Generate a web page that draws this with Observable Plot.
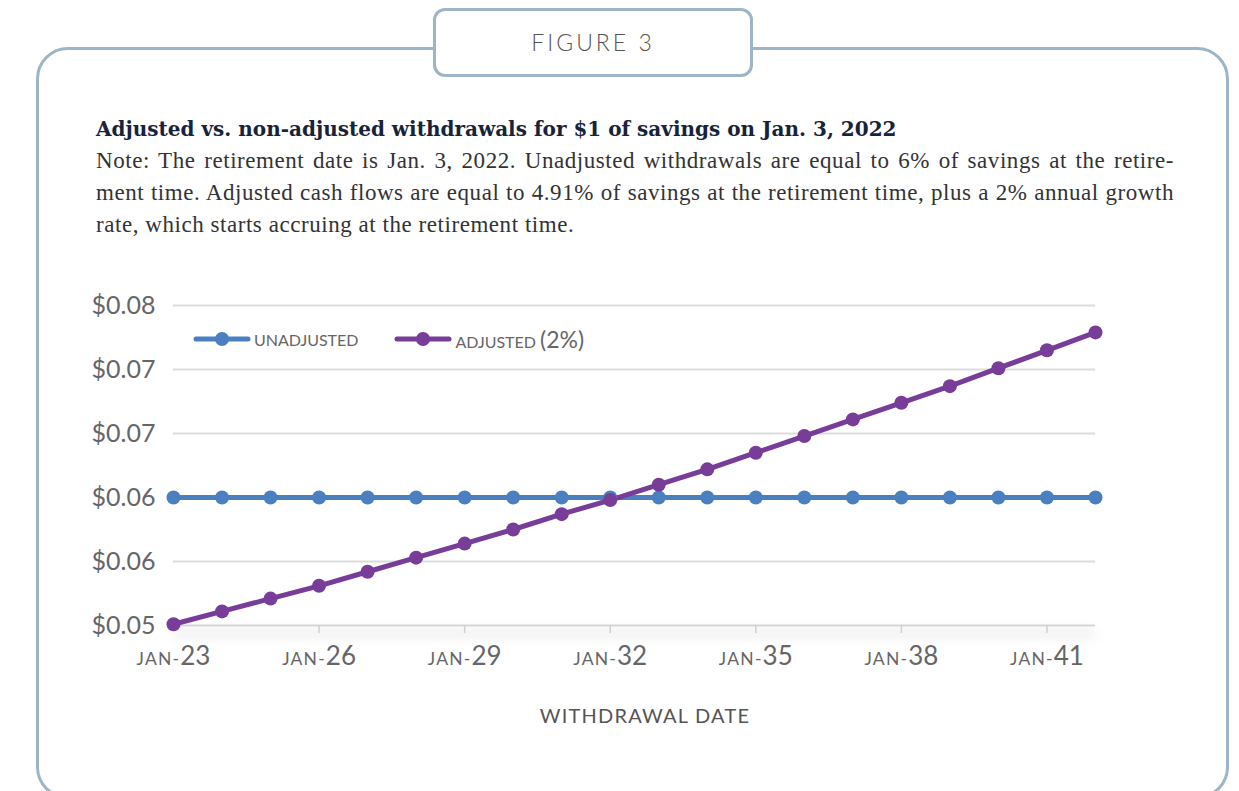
<!DOCTYPE html>
<html>
<head>
<meta charset="utf-8">
<script src="https://cdn.jsdelivr.net/npm/d3@7"></script>
<script src="https://cdn.jsdelivr.net/npm/@observablehq/plot@0.6"></script>
<style>
  html, body { margin: 0; padding: 0; background: #fff; width: 1239px; height: 791px; overflow: hidden; }
  #frame { position: absolute; left: 36px; top: 47px; width: 1193px; height: 752px; border: 3px solid #9db5c6; border-radius: 32px; box-sizing: border-box; }
  #tab { position: absolute; left: 433px; top: 8px; width: 320px; height: 69px; border: 3px solid #9db5c6; border-radius: 12px; box-sizing: border-box; background: #fff;
         font-family: Lato, sans-serif; font-weight: 300; font-size: 23px; letter-spacing: 3px; color: #555; text-align: center; line-height: 63px; }
  #title { position: absolute; left: 96px; top: 117px; font-family: "DejaVu Serif", serif; font-weight: bold; font-size: 20px; color: #17233a; white-space: nowrap; letter-spacing: 0px; }
  #note { position: absolute; left: 96px; top: 145px; width: 1078px; font-family: "Liberation Serif", serif; font-size: 23px; letter-spacing: 0.55px; line-height: 32px; color: #333; }
  #note div.j { text-align: justify; text-align-last: justify; white-space: nowrap; }
  #chart { position: absolute; left: 80px; top: 280px; }
  #legend { position: absolute; left: 193px; top: 325px; font-family: Lato, sans-serif; color: #666; font-size: 16px; display: flex; align-items: center; }
  #legend .item { display: flex; align-items: center; margin-right: 36px; }
  #legend svg { margin-right: 3px; }
  #xtitle { position: absolute; left: 0; width: 1290px; top: 703px; text-align: center; font-family: Lato, sans-serif; font-size: 20px; color: #555; letter-spacing: 1.2px; }
</style>
</head>
<body>
<div id="frame"></div>
<div id="tab">FIGURE 3</div>
<div id="title">Adjusted vs. non-adjusted withdrawals for $1 of savings on Jan. 3, 2022</div>
<div id="note">
  <div class="j">Note: The retirement date is Jan. 3, 2022. Unadjusted withdrawals are equal to 6% of savings at the retire-</div>
  <div class="j">ment time. Adjusted cash flows are equal to 4.91% of savings at the retirement time, plus a 2% annual growth</div>
  <div>rate, which starts accruing at the retirement time.</div>
</div>
<div id="chart"></div>
<div id="legend"></div>
<div id="xtitle">WITHDRAWAL DATE</div>
<script>
// ---- data ----
const years = [2023, 2024, 2025, 2026, 2027, 2028, 2029, 2030, 2031, 2032,
               2033, 2034, 2035, 2036, 2037, 2038, 2039, 2040, 2041, 2042];
const unadjusted = [0.06, 0.06, 0.06, 0.06, 0.06, 0.06, 0.06, 0.06, 0.06, 0.06,
                    0.06, 0.06, 0.06, 0.06, 0.06, 0.06, 0.06, 0.06, 0.06, 0.06];
const adjusted = [0.0501, 0.0511, 0.0521, 0.0531, 0.0542, 0.0553, 0.0564, 0.0575, 0.0587, 0.0598,
                  0.0610, 0.0622, 0.0635, 0.0648, 0.0661, 0.0674, 0.0687, 0.0701, 0.0715, 0.0729];
const seriesNames = ["UNADJUSTED", "ADJUSTED (2%)"];
const seriesColors = ["#4a80c0", "#773d98"];
const xTicks = [2023, 2026, 2029, 2032, 2035, 2038, 2041];
const xTickLabels = ["JAN-23", "JAN-26", "JAN-29", "JAN-32", "JAN-35", "JAN-38", "JAN-41"];
const yTicks = [0.05, 0.055, 0.06, 0.065, 0.07, 0.075];
const yTickLabels = ["$0.05", "$0.06", "$0.06", "$0.07", "$0.07", "$0.08"];

const rows = [
  ...years.map((yr, i) => ({year: yr, value: unadjusted[i], series: seriesNames[0]})),
  ...years.map((yr, i) => ({year: yr, value: adjusted[i], series: seriesNames[1]}))
];

const plot = Plot.plot({
  width: 1050,
  height: 460,
  marginLeft: 93,
  marginRight: 35,
  marginTop: 25,
  marginBottom: 115,
  style: {fontFamily: "Lato, sans-serif", background: "transparent", overflow: "visible"},
  x: {domain: [2023, 2042]},
  y: {domain: [0.05, 0.075]},
  color: {domain: seriesNames, range: seriesColors},
  marks: [
    Plot.ruleY(yTicks.slice(1), {stroke: "#dcdcdc", strokeWidth: 2}),
    Plot.ruleY([yTicks[0]], {stroke: "#d6d6d6", strokeWidth: 2}),
    Plot.axisY(yTicks, {
      tickSize: 0, tickPadding: 18, fontSize: 25, color: "#666",
      tickFormat: (d) => yTickLabels[yTicks.indexOf(d)], label: null
    }),
    Plot.axisX(xTicks.slice(1), {
      tickSize: 8, stroke: "#d0d0d0", strokeWidth: 1.5, tickFormat: () => "", label: null
    }),
    Plot.axisX(xTicks, {
      tickSize: 0, tickPadding: 22, fontSize: 24, color: "#666",
      tickFormat: d => xTickLabels[xTicks.indexOf(d)], label: null
    }),
    Plot.line(rows, {x: "year", y: "value", stroke: "series", z: "series", strokeWidth: 5}),
    Plot.dot(rows, {x: "year", y: "value", fill: "series", r: 7, stroke: null})
  ]
});
document.getElementById("chart").appendChild(plot);

// shadow under the x baseline
const rulesG = plot.querySelectorAll('g[aria-label="rule"]');
if (rulesG.length > 1) rulesG[1].setAttribute("style", "filter: drop-shadow(0px 8px 6px rgba(0,0,0,0.28))");

// split x tick labels into small "JAN-" and larger year digits
plot.querySelectorAll('g[aria-label="x-axis tick label"] text').forEach(t => {
  const s = t.textContent;
  if (!s) return;
  const [a, b] = s.split("-");
  t.textContent = "";
  const ns = "http://www.w3.org/2000/svg";
  const t1 = document.createElementNS(ns, "tspan");
  t1.setAttribute("font-size", "17.5");
  t1.setAttribute("letter-spacing", "1.2");
  t1.textContent = a + "-";
  const t2 = document.createElementNS(ns, "tspan");
  t2.setAttribute("font-size", "26");
  t2.textContent = b;
  t.appendChild(t1); t.appendChild(t2);
});

// legend
const legend = document.getElementById("legend");
seriesNames.forEach((name, i) => {
  const item = document.createElement("div");
  item.className = "item";
  item.innerHTML = `<svg width="58" height="16"><line x1="3" x2="55" y1="8" y2="8" stroke="${seriesColors[i]}" stroke-width="5" stroke-linecap="round"/><circle cx="29" cy="8" r="7" fill="${seriesColors[i]}"/></svg>`;
  const label = document.createElement("span");
  if (name.includes("(")) {
    const idx = name.indexOf("(");
    label.innerHTML = name.slice(0, idx) + `<span style="font-size:23px">${name.slice(idx)}</span>`;
  } else label.textContent = name;
  item.appendChild(label);
  legend.appendChild(item);
});
</script>
</body>
</html>
